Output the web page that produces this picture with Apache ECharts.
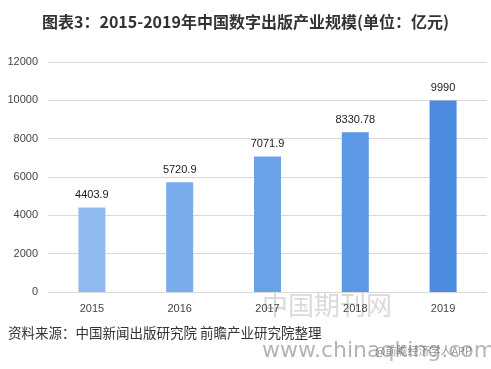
<!DOCTYPE html>
<html><head><meta charset="utf-8">
<script src="https://cdn.jsdelivr.net/npm/echarts@6/dist/echarts.min.js"></script>
<style>html,body{margin:0;padding:0;background:#fff}#c{width:491px;height:369px}</style>
</head><body><div id="c"></div>
<script>
const categories = ['2015','2016','2017','2018','2019'];
const values = [4403.9, 5720.9, 7071.9, 8330.78, 9990];
const labels = ['4403.9','5720.9','7071.9','8330.78','9990'];
const barColors = ['#8fbaf0','#7aabeb','#6aa1e9','#5d98e6','#4b8ce1'];
const yTicks = [0,2000,4000,6000,8000,10000,12000];

const chart = echarts.init(document.getElementById('c'));
chart.setOption({
  animation:false,
  title:{text:'图表3：2015-2019年中国数字出版产业规模(单位：亿元)',left:'center',top:9,
    textStyle:{fontFamily:'Noto Sans CJK SC',fontSize:16,fontWeight:'bold',color:'#333'}},
  grid:{left:48,right:4,top:62,bottom:77},
  xAxis:{type:'category',data:categories,axisLine:{show:false},axisTick:{show:false},
    axisLabel:{color:'#444',fontSize:11,fontFamily:'Liberation Sans',margin:11}},
  yAxis:{type:'value',min:0,max:12000,interval:2000,
    axisLabel:{color:'#444',fontSize:11,fontFamily:'Liberation Sans',margin:10,formatter:v=>String(v)},
    splitLine:{lineStyle:{color:'#d9d9d9'}}},
  series:[{type:'bar',barWidth:27,
    data:values.map((v,i)=>({value:v,itemStyle:{color:barColors[i]}})),
    label:{show:true,position:'top',distance:7,color:'#222',fontSize:11,fontFamily:'Liberation Sans',
      formatter:p=>labels[p.dataIndex]}}],
  graphic:[
    {type:'text',left:8,top:326,style:{text:'资料来源：中国新闻出版研究院 前瞻产业研究院整理',fontFamily:'Noto Sans CJK SC',fontSize:13.5,fill:'#333'}},
    {type:'text',left:262,top:340,style:{text:'www.chinaqking.com',fontFamily:'DejaVu Sans',fontSize:22,fill:'rgba(120,120,120,0.55)'}},
    {type:'text',left:262,top:292,style:{text:'中国期刊网',fontFamily:'Noto Sans CJK SC',fontSize:26,fill:'rgba(150,150,150,0.35)'}},
    {type:'text',left:375,top:345,style:{text:'@前瞻经济学人APP',fontFamily:'Noto Sans CJK SC',fontSize:11,fill:'rgba(80,80,80,0.6)'}}
  ]
});
</script></body></html>
